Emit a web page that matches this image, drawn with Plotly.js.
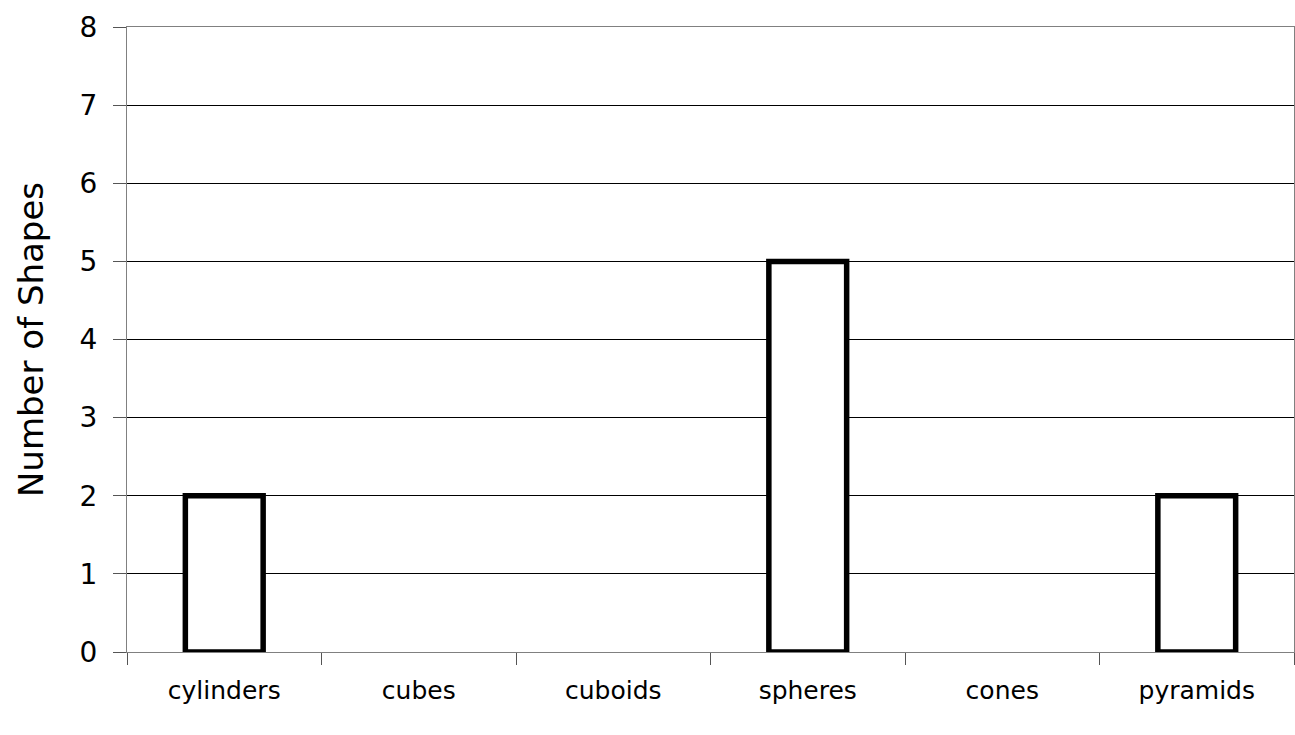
<!DOCTYPE html>
<html>
<head>
<meta charset="utf-8">
<script src="https://cdn.plot.ly/plotly-3.0.1.min.js"></script>
<style>html,body{margin:0;padding:0;background:#fff;}#chart{width:1295px;height:735px;}</style>
</head>
<body>
<div id="chart"></div>
<script>
const categories = ["cylinders", "cubes", "cuboids", "spheres", "cones", "pyramids"];
const counts = [2, 0, 0, 5, 0, 2];
const yTicks = [0, 1, 2, 3, 4, 5, 6, 7, 8];

const fontFam = '"Comic Sans MS", "DejaVu Sans", sans-serif';

const trace = {
  type: 'bar',
  x: categories,
  y: counts,
  width: 0.4,
  marker: {
    color: '#ffffff',
    line: { color: '#000000', width: counts.map(v => v > 0 ? 5.5 : 0) }
  },
  hoverinfo: 'x+y'
};

const layout = {
  width: 1295, height: 735,
  margin: { l: 127, r: 1, t: 27, b: 83 },
  paper_bgcolor: '#ffffff', plot_bgcolor: '#ffffff',
  showlegend: false,
  font: { family: fontFam, color: '#000', size: 22 },
  xaxis: {
    type: 'category',
    range: [-0.5, 5.5],
    tickson: 'boundaries',
    ticks: 'outside', ticklen: 12, tickcolor: '#555', tickwidth: 1,
    showgrid: false,
    showline: true, linecolor: '#808080', linewidth: 1, mirror: true,
    tickfont: { family: fontFam, size: 25, color: '#000' },
    ticklabelstandoff: 16
  },
  yaxis: {
    range: [0, 8],
    tickvals: yTicks,
    ticks: 'outside', ticklen: 13, tickcolor: '#555', tickwidth: 1,
    showgrid: true, gridcolor: '#000000', gridwidth: 1,
    zeroline: false,
    showline: true, linecolor: '#808080', linewidth: 1, mirror: true,
    tickfont: { family: fontFam, size: 28, color: '#000' },
    ticklabelstandoff: 10,
    title: { text: 'Number of Shapes', font: { family: fontFam, size: 34, color: '#000' }, standoff: 25 }
  }
};

Plotly.newPlot('chart', [trace], layout, { displayModeBar: false, staticPlot: true });
</script>
</body>
</html>
